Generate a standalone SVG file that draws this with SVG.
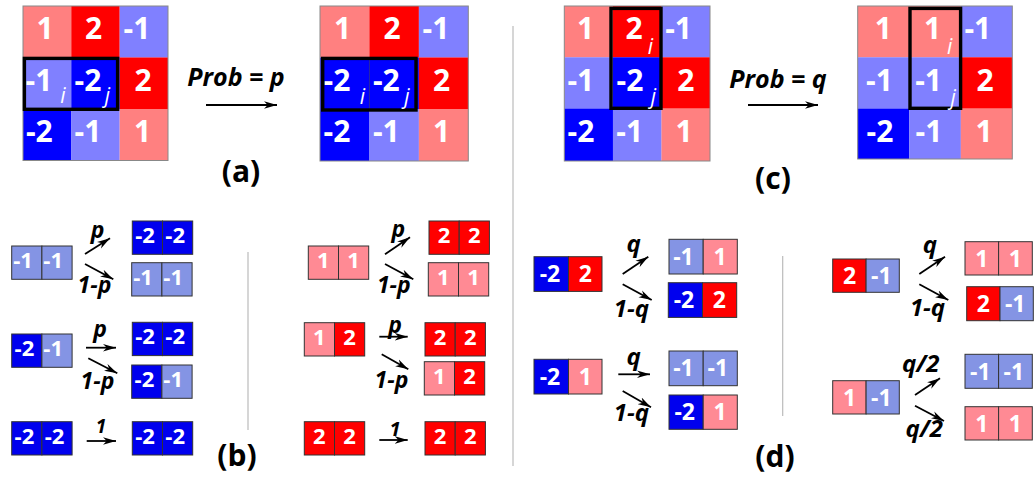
<svg xmlns="http://www.w3.org/2000/svg" width="1035" height="478" viewBox="0 0 1035 478">
<defs>
<marker id="ah" viewBox="0 0 12 8" refX="12" refY="4" markerWidth="13" markerHeight="9" markerUnits="userSpaceOnUse" orient="auto">
<path d="M0,0.5 L12,4 L0,7.5 L3.5,4 z" fill="#000"/>
</marker>
<style>
.c1{fill:#FF8080}.c2{fill:#FF0000}.m1{fill:#8080FF}.m2{fill:#0000FF}
.s1{fill:#FF8A94;stroke:#333;stroke-width:1}.s2{fill:#FF0000;stroke:#333;stroke-width:1}
.n1{fill:#8494E4;stroke:#333;stroke-width:1}.n2{fill:#0000EE;stroke:#333;stroke-width:1}
.gb{fill:none;stroke:#888;stroke-width:1}
.bx{fill:none;stroke:#000;stroke-width:3.4}
text{font-family:"Open Sans","DejaVu Sans",sans-serif}
.t{font-weight:bold;fill:#fff;font-size:30px;text-anchor:middle}
.st{font-weight:bold;fill:#fff;font-size:22px;text-anchor:middle}
.dt{font-weight:bold;fill:#fff;font-size:23px;text-anchor:middle}
.sub{font-style:italic;fill:#fff;font-size:21px;text-anchor:middle}
.lb{font-weight:bold;font-style:italic;fill:#000;font-size:23px;text-anchor:middle}
.lbd{font-weight:bold;font-style:italic;fill:#000;font-size:24px;text-anchor:middle}
.big{font-weight:bold;font-style:italic;fill:#000;font-size:25px;text-anchor:middle}
.cap{font-weight:bold;fill:#000;font-size:30px;text-anchor:middle}
.ar{stroke:#000;stroke-width:1.8;fill:none;marker-end:url(#ah)}
.sep{stroke:#BBBBBB;stroke-width:1.2}
</style>
</defs>

<g id="grid-a-left">
<rect class="c1" x="23" y="6" width="48.4" height="51.6"/>
<rect class="c2" x="71.3" y="6" width="48.4" height="51.6"/>
<rect class="m1" x="119.7" y="6" width="48.3" height="51.6"/>
<rect class="m1" x="23" y="57.5" width="48.4" height="51.6"/>
<rect class="m2" x="71.3" y="57.5" width="48.4" height="51.6"/>
<rect class="c2" x="119.7" y="57.5" width="48.3" height="51.6"/>
<rect class="m2" x="23" y="109" width="48.4" height="51.5"/>
<rect class="m1" x="71.3" y="109" width="48.4" height="51.5"/>
<rect class="c1" x="119.7" y="109" width="48.3" height="51.5"/>
<rect class="gb" x="23" y="6" width="145" height="154.5"/>
<text class="t" x="45.2" y="39">1</text>
<text class="t" x="93.5" y="39">2</text>
<text class="t" x="137" y="39">-1</text>
<text class="t" x="39" y="90.5">-1</text>
<text class="t" x="88" y="90.5">-2</text>
<text class="t" x="143" y="90.5">2</text>
<text class="t" x="39.3" y="142">-2</text>
<text class="t" x="88" y="142">-1</text>
<text class="t" x="142.5" y="142">1</text>
<rect class="bx" x="24.4" y="58.4" width="93.2" height="50.9"/>
<text class="sub" x="63" y="103">i</text>
<text class="sub" x="107.5" y="103">j</text>
</g>

<g id="grid-a-right">
<rect class="c1" x="320" y="6" width="49.5" height="51.6"/>
<rect class="c2" x="369.4" y="6" width="49.5" height="51.6"/>
<rect class="m1" x="418.9" y="6" width="49.4" height="51.6"/>
<rect class="m2" x="320" y="57.5" width="49.5" height="51.6"/>
<rect class="m2" x="369.4" y="57.5" width="49.5" height="51.6"/>
<rect class="c2" x="418.9" y="57.5" width="49.4" height="51.6"/>
<rect class="m2" x="320" y="109" width="49.5" height="52"/>
<rect class="m1" x="369.4" y="109" width="49.5" height="52"/>
<rect class="c1" x="418.9" y="109" width="49.4" height="52"/>
<rect class="gb" x="320" y="6" width="148.3" height="155"/>
<line x1="369.4" y1="59" x2="369.4" y2="109" stroke="#20208a" stroke-width="0.8"/>
<text class="t" x="342.7" y="39">1</text>
<text class="t" x="392.1" y="39">2</text>
<text class="t" x="436" y="39">-1</text>
<text class="t" x="337" y="90.5">-2</text>
<text class="t" x="386.3" y="90.5">-2</text>
<text class="t" x="441.6" y="90.5">2</text>
<text class="t" x="337" y="142">-2</text>
<text class="t" x="386.3" y="142">-1</text>
<text class="t" x="441.6" y="142">1</text>
<rect class="bx" x="322.7" y="58.4" width="93.3" height="51.6"/>
<text class="sub" x="362.5" y="104">i</text>
<text class="sub" x="407" y="104">j</text>
</g>

<g id="grid-c-left">
<rect class="c1" x="564.3" y="6" width="48.7" height="51.4"/>
<rect class="c2" x="612.9" y="6" width="48.7" height="51.4"/>
<rect class="m1" x="661.5" y="6" width="48.5" height="51.4"/>
<rect class="m1" x="564.3" y="57.3" width="48.7" height="51.4"/>
<rect class="m2" x="612.9" y="57.3" width="48.7" height="51.4"/>
<rect class="c2" x="661.5" y="57.3" width="48.5" height="51.4"/>
<rect class="m2" x="564.3" y="108.6" width="48.7" height="52.4"/>
<rect class="m1" x="612.9" y="108.6" width="48.7" height="52.4"/>
<rect class="c1" x="661.5" y="108.6" width="48.5" height="52.4"/>
<rect class="gb" x="564.3" y="6" width="145.7" height="155"/>
<text class="t" x="585.6" y="39">1</text>
<text class="t" x="634" y="39">2</text>
<text class="t" x="678.6" y="39">-1</text>
<text class="t" x="580.8" y="90.5">-1</text>
<text class="t" x="630" y="90.5">-2</text>
<text class="t" x="685.8" y="90.5">2</text>
<text class="t" x="581" y="142">-2</text>
<text class="t" x="629.7" y="142">-1</text>
<text class="t" x="684" y="142">1</text>
<rect class="bx" x="611" y="8.4" width="50" height="99.9"/>
<text class="sub" x="650.5" y="54">i</text>
<text class="sub" x="653.5" y="104">j</text>
</g>

<g id="grid-c-right">
<rect class="c1" x="857.7" y="6" width="51.6" height="51.4"/>
<rect class="c1" x="909.2" y="6" width="51.7" height="51.4"/>
<rect class="m1" x="960.8" y="6" width="51.5" height="51.4"/>
<rect class="m1" x="857.7" y="57.3" width="51.6" height="51.4"/>
<rect class="m1" x="909.2" y="57.3" width="51.7" height="51.4"/>
<rect class="c2" x="960.8" y="57.3" width="51.5" height="51.4"/>
<rect class="m2" x="857.7" y="108.6" width="51.6" height="50.4"/>
<rect class="m1" x="909.2" y="108.6" width="51.7" height="50.4"/>
<rect class="c1" x="960.8" y="108.6" width="51.5" height="50.4"/>
<rect class="gb" x="857.7" y="6" width="154.6" height="153"/>
<text class="t" x="883.3" y="39">1</text>
<text class="t" x="932.5" y="39">1</text>
<text class="t" x="977.8" y="39">-1</text>
<text class="t" x="879.5" y="90.5">-1</text>
<text class="t" x="928.6" y="90.5">-1</text>
<text class="t" x="985" y="90.5">2</text>
<text class="t" x="880" y="142">-2</text>
<text class="t" x="929" y="142">-1</text>
<text class="t" x="984.2" y="142">1</text>
<rect class="bx" x="910" y="8.4" width="50.6" height="99.9"/>
<text class="sub" x="949.7" y="54">i</text>
<text class="sub" x="953.2" y="105">j</text>
</g>

<g id="labels-top">
<text class="big" x="236" y="86">Prob = p</text>
<text class="cap" x="241" y="182">(a)</text>
<text class="big" x="778" y="88">Prob = q</text>
<text class="cap" x="773" y="189">(c)</text>
<text class="cap" x="237" y="466">(b)</text>
<text class="cap" x="775" y="467">(d)</text>
</g>

<g id="b-row1-left">
<rect class="n1" x="11.7" y="246" width="30.2" height="33.3"/><rect class="n1" x="41.9" y="246" width="30.2" height="33.3"/>
<text class="st" x="23" y="268">-1</text><text class="st" x="53.2" y="268">-1</text>
</g>
<g id="b-row1-left-a">
<rect class="n2" x="132.3" y="221" width="30.2" height="33.3"/><rect class="n2" x="162.5" y="221" width="30.2" height="33.3"/>
<text class="st" x="145" y="243">-2</text><text class="st" x="175.2" y="243">-2</text>
</g>
<g id="b-row1-left-b">
<rect class="n1" x="131.7" y="262.7" width="30.2" height="33.3"/><rect class="n1" x="161.9" y="262.7" width="30.2" height="33.3"/>
<text class="st" x="143" y="284.7">-1</text><text class="st" x="173.2" y="284.7">-1</text>
</g>
<g id="b-row2-left">
<rect class="n2" x="11.7" y="334" width="30.2" height="33.3"/><rect class="n1" x="41.9" y="334" width="30.2" height="33.3"/>
<text class="st" x="24.4" y="356">-2</text><text class="st" x="53.2" y="356">-1</text>
</g>
<g id="b-row2-left-a">
<rect class="n2" x="132.3" y="322.3" width="30.2" height="33.3"/><rect class="n2" x="162.5" y="322.3" width="30.2" height="33.3"/>
<text class="st" x="145" y="344.3">-2</text><text class="st" x="175.2" y="344.3">-2</text>
</g>
<g id="b-row2-left-b">
<rect class="n2" x="131.7" y="365" width="30.2" height="33.3"/><rect class="n1" x="161.9" y="365" width="30.2" height="33.3"/>
<text class="st" x="144.4" y="387">-2</text><text class="st" x="173.2" y="387">-1</text>
</g>
<g id="b-row3-left">
<rect class="n2" x="11.7" y="421.7" width="30.2" height="33.3"/><rect class="n2" x="41.9" y="421.7" width="30.2" height="33.3"/>
<text class="st" x="24.4" y="443.7">-2</text><text class="st" x="54.6" y="443.7">-2</text>
</g>
<g id="b-row3-left-a">
<rect class="n2" x="132.3" y="421.7" width="30.2" height="33.3"/><rect class="n2" x="162.5" y="421.7" width="30.2" height="33.3"/>
<text class="st" x="145" y="443.7">-2</text><text class="st" x="175.2" y="443.7">-2</text>
</g>

<g id="b-row1-right">
<rect class="s1" x="308.3" y="246" width="30.2" height="33.3"/><rect class="s1" x="338.5" y="246" width="30.2" height="33.3"/>
<text class="st" x="323.4" y="268">1</text><text class="st" x="353.6" y="268">1</text>
</g>
<g id="b-row1-right-a">
<rect class="s2" x="429" y="221" width="30.2" height="33.3"/><rect class="s2" x="459.2" y="221" width="30.2" height="33.3"/>
<text class="st" x="444.1" y="243">2</text><text class="st" x="474.3" y="243">2</text>
</g>
<g id="b-row1-right-b">
<rect class="s1" x="428.3" y="262.7" width="30.2" height="33.3"/><rect class="s1" x="458.5" y="262.7" width="30.2" height="33.3"/>
<text class="st" x="443.4" y="284.7">1</text><text class="st" x="473.6" y="284.7">1</text>
</g>
<g id="b-row2-right">
<rect class="s1" x="304.3" y="322.7" width="30.2" height="33.3"/><rect class="s2" x="334.5" y="322.7" width="30.2" height="33.3"/>
<text class="st" x="319.4" y="344.7">1</text><text class="st" x="349.6" y="344.7">2</text>
</g>
<g id="b-row2-right-a">
<rect class="s2" x="425" y="322.7" width="30.2" height="33.3"/><rect class="s2" x="455.2" y="322.7" width="30.2" height="33.3"/>
<text class="st" x="440.1" y="344.7">2</text><text class="st" x="470.3" y="344.7">2</text>
</g>
<g id="b-row2-right-b">
<rect class="s1" x="424.3" y="361.7" width="30.2" height="33.3"/><rect class="s2" x="454.5" y="361.7" width="30.2" height="33.3"/>
<text class="st" x="439.4" y="383.7">1</text><text class="st" x="469.6" y="383.7">2</text>
</g>
<g id="b-row3-right">
<rect class="s2" x="304.3" y="421.7" width="30.2" height="33.3"/><rect class="s2" x="334.5" y="421.7" width="30.2" height="33.3"/>
<text class="st" x="319.4" y="443.7">2</text><text class="st" x="349.6" y="443.7">2</text>
</g>
<g id="b-row3-right-a">
<rect class="s2" x="425" y="421.7" width="30.2" height="33.3"/><rect class="s2" x="455.2" y="421.7" width="30.2" height="33.3"/>
<text class="st" x="440.1" y="443.7">2</text><text class="st" x="470.3" y="443.7">2</text>
</g>

<g id="d-row1-left">
<rect class="n2" x="534" y="256.7" width="34.5" height="34.7"/><rect class="s2" x="568.5" y="256.7" width="33.5" height="34.7"/>
<text class="dt" x="550" y="282">-2</text><text class="dt" x="585.3" y="282">2</text>
</g>
<g id="d-row1-left-a">
<rect class="n1" x="669" y="239.3" width="34.2" height="34.7"/><rect class="s1" x="703.2" y="239.3" width="34.1" height="34.7"/>
<text class="dt" x="683.5" y="264.6">-1</text><text class="dt" x="720" y="264.6">1</text>
</g>
<g id="d-row1-left-b">
<rect class="n2" x="668.3" y="282.7" width="34.2" height="34.7"/><rect class="s2" x="702.5" y="282.7" width="34.2" height="34.7"/>
<text class="dt" x="684" y="308">-2</text><text class="dt" x="719.3" y="308">2</text>
</g>
<g id="d-row2-left">
<rect class="n2" x="534" y="359.3" width="34.5" height="34.7"/><rect class="s1" x="568.5" y="359.3" width="33.5" height="34.7"/>
<text class="dt" x="550" y="384.6">-2</text><text class="dt" x="585.3" y="384.6">1</text>
</g>
<g id="d-row2-left-a">
<rect class="n1" x="669" y="351" width="34.2" height="34.7"/><rect class="n1" x="703.2" y="351" width="34.1" height="34.7"/>
<text class="dt" x="683.5" y="376.3">-1</text><text class="dt" x="717.8" y="376.3">-1</text>
</g>
<g id="d-row2-left-b">
<rect class="n2" x="669" y="395" width="34.2" height="34.3"/><rect class="s1" x="703.2" y="395" width="34.1" height="34.3"/>
<text class="dt" x="684.7" y="420.3">-2</text><text class="dt" x="720" y="420.3">1</text>
</g>

<g id="d-row1-right">
<rect class="s2" x="832.7" y="259" width="33.4" height="33.3"/><rect class="n1" x="866.1" y="259" width="33.2" height="33.3"/>
<text class="dt" x="849.5" y="284">2</text><text class="dt" x="881.3" y="284">-1</text>
</g>
<g id="d-row1-right-a">
<rect class="s1" x="965" y="241.7" width="33.6" height="33.3"/><rect class="s1" x="998.6" y="241.7" width="33.7" height="33.3"/>
<text class="dt" x="981.8" y="266.7">1</text><text class="dt" x="1015.4" y="266.7">1</text>
</g>
<g id="d-row1-right-b">
<rect class="s2" x="966.7" y="286.7" width="33.3" height="34"/><rect class="n1" x="1000" y="286.7" width="33.3" height="34"/>
<text class="dt" x="983.4" y="312">2</text><text class="dt" x="1015.2" y="312">-1</text>
</g>
<g id="d-row2-right">
<rect class="s1" x="832.7" y="380.7" width="33.4" height="33.3"/><rect class="n1" x="866.1" y="380.7" width="33.2" height="33.3"/>
<text class="dt" x="849.5" y="405.7">1</text><text class="dt" x="881.3" y="405.7">-1</text>
</g>
<g id="d-row2-right-a">
<rect class="n1" x="965" y="354.3" width="33.6" height="34"/><rect class="n1" x="998.6" y="354.3" width="33.7" height="34"/>
<text class="dt" x="980.3" y="379.6">-1</text><text class="dt" x="1013.9" y="379.6">-1</text>
</g>
<g id="d-row2-right-b">
<rect class="s1" x="965" y="406.7" width="33.6" height="33.3"/><rect class="s1" x="998.6" y="406.7" width="33.7" height="33.3"/>
<text class="dt" x="981.8" y="431.7">1</text><text class="dt" x="1015.4" y="431.7">1</text>
</g>

<g id="connectors">
<line class="sep" x1="513" y1="26" x2="513" y2="466"/>
<line class="sep" x1="248" y1="252" x2="248" y2="430"/>
<line class="sep" x1="782.7" y1="256" x2="782.7" y2="416"/>
<line class="ar" x1="206" y1="105" x2="277" y2="105"/>
<line class="ar" x1="748" y1="105" x2="818" y2="105"/>
<line class="ar" x1="85" y1="254" x2="110" y2="238.3"/>
<line class="ar" x1="85" y1="264" x2="113.3" y2="279.3"/>
<line class="ar" x1="86" y1="347.7" x2="116" y2="347.7"/>
<line class="ar" x1="88.3" y1="358.3" x2="117.3" y2="373.3"/>
<line class="ar" x1="86.7" y1="441" x2="116" y2="441"/>
<line class="ar" x1="385" y1="254.3" x2="410" y2="237.3"/>
<line class="ar" x1="385" y1="264" x2="413.3" y2="279.3"/>
<line class="ar" x1="379.3" y1="336.7" x2="407.7" y2="336.7"/>
<line class="ar" x1="381.7" y1="354.3" x2="408.3" y2="369.3"/>
<line class="ar" x1="379.3" y1="440" x2="407.7" y2="440"/>
<line class="ar" x1="622.7" y1="274" x2="648.3" y2="256.7"/>
<line class="ar" x1="622.7" y1="284.3" x2="651.7" y2="300"/>
<line class="ar" x1="618.3" y1="374.3" x2="650" y2="374.3"/>
<line class="ar" x1="622.7" y1="391" x2="651" y2="407.3"/>
<line class="ar" x1="919.3" y1="274" x2="945" y2="256.7"/>
<line class="ar" x1="919.3" y1="284.3" x2="948.3" y2="300"/>
<line class="ar" x1="915" y1="395" x2="940" y2="378.3"/>
<line class="ar" x1="915" y1="405.7" x2="944" y2="421"/>
<text class="lb" x="97.5" y="238">p</text>
<text class="lb" x="94.5" y="292.5">1-p</text>
<text class="lb" x="100" y="336.5">p</text>
<text class="lb" x="97.5" y="388.5">1-p</text>
<text class="lb" x="101" y="433" style="font-size:19px">1</text>
<text class="lb" x="398.3" y="237">p</text>
<text class="lb" x="393.8" y="292.5">1-p</text>
<text class="lb" x="395" y="333">p</text>
<text class="lb" x="391.5" y="387.5">1-p</text>
<text class="lb" x="395" y="436" style="font-size:20px">1</text>
<text class="lbd" x="633.7" y="251.5">q</text>
<text class="lbd" x="631.3" y="316.5">1-q</text>
<text class="lbd" x="633.7" y="365">q</text>
<text class="lbd" x="631.3" y="420.5">1-q</text>
<text class="lbd" x="930" y="253">q</text>
<text class="lbd" x="927.5" y="315.5">1-q</text>
<text class="lbd" x="920.8" y="372">q/2</text>
<text class="lbd" x="924.2" y="437">q/2</text>
</g>
</svg>
